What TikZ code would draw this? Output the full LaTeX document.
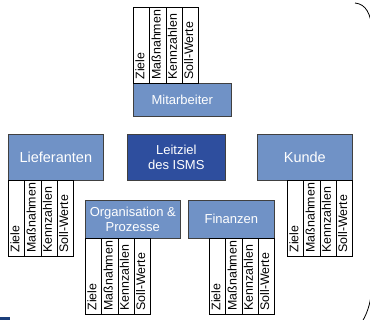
\documentclass[tikz,border=0pt]{standalone}
\usepackage{fontspec}
\setmainfont{Liberation Sans}
\usetikzlibrary{calc}

\definecolor{boxblue}{RGB}{112,146,198}
\definecolor{coreblue}{RGB}{46,78,158}
\definecolor{navy}{RGB}{27,62,122}

\tikzset{
  unit/.style={draw=black!75, line width=0.6pt, fill=boxblue, text=white,
    anchor=north west, inner sep=0pt, align=center},
  core/.style={unit, fill=coreblue},
  kpicell/.style={draw=black, line width=0.7pt, fill=white, anchor=north west,
    inner sep=0pt, minimum width=16.25pt, minimum height=76pt},
  kpitext/.style={rotate=90, anchor=base west, inner sep=0pt,
    font=\fontsize{12.4}{14}\selectfont},
  bracket/.style={draw=black, line width=0.8pt}
}

% four KPI columns (name, left x, top y)
\newcommand\kpicolumns[3]{%
  \foreach \i/\t in {0/Ziele,1/Maßnahmen,2/Kennzahlen,3/Soll-Werte}{
    \node[kpicell] (#1-\i) at (#2+\i*16.25,#3) {};
    \node[kpitext] (#1-l\i) at ($(#1-\i.south east)+(-5.5,-4)$) {\t};
  }%
}

\begin{document}
\begin{tikzpicture}[x=1pt,y=-1pt]
  \useasboundingbox (0,0) rectangle (370,320);

  % perspectives
  \node[unit, minimum width=98pt, minimum height=33pt, font=\fontsize{13}{14}\selectfont]
    (mitarbeiter) at (133,83) {Mitarbeiter};
  \node[core, minimum width=98pt, minimum height=46pt, font=\fontsize{13}{14.5}\selectfont]
    (leitziel) at (127,134) {Leitziel\\des ISMS};
  \node[unit, minimum width=95pt, minimum height=46pt, font=\fontsize{14.5}{16}\selectfont]
    (lieferanten) at (8,134) {Lieferanten};
  \node[unit, minimum width=95pt, minimum height=46pt, font=\fontsize{14.5}{16}\selectfont]
    (kunde) at (257,134) {Kunde};
  \node[unit, minimum width=95pt, minimum height=38pt, font=\fontsize{13}{15}\selectfont]
    (organisation) at (85,200) {Organisation \&\\Prozesse};
  \node[unit, minimum width=86pt, minimum height=38pt, font=\fontsize{13}{15}\selectfont]
    (finanzen) at (188,200) {Finanzen};

  % KPI tables
  \kpicolumns{tm}{133}{7}
  \kpicolumns{tl}{8}{180}
  \kpicolumns{tk}{287}{180}
  \kpicolumns{to}{85}{238}
  \kpicolumns{tf}{209}{238}

  % brace on the right
  \draw[bracket] (355,3) .. controls (366,4) and (371,14) .. (372,30)
    -- (372,280) .. controls (372,300) and (368,312) .. (362,322);

  % corner mark
  \fill[navy] (0,317) rectangle (10,320);
\end{tikzpicture}
\end{document}
